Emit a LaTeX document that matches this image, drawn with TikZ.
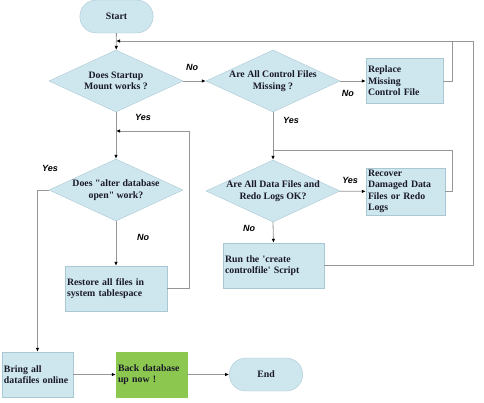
\documentclass[tikz,border=0pt]{standalone}
\usepackage{fontspec}
\setmainfont{Liberation Serif}
\newfontfamily\lblfont{Liberation Sans}
\usetikzlibrary{arrows.meta, positioning, shapes.geometric, shapes.misc}
\definecolor{color_box}{RGB}{206,230,238}
\definecolor{color_edge}{RGB}{170,200,212}
\definecolor{color_ok}{RGB}{140,200,80}
\definecolor{color_line}{RGB}{150,150,150}
\definecolor{color_text}{RGB}{25,25,40}

\begin{document}
\begin{tikzpicture}[x=1pt,y=-1pt,
	every node/.append style={font=\fontsize{9.8}{11.5}\selectfont\bfseries, text=color_text},
	terminal/.style={rounded rectangle, draw=color_edge, fill=color_box, minimum width=80pt, minimum height=33pt},
	decision/.style={diamond, draw=color_edge, fill=color_box, align=center, inner sep=-3pt, aspect=2, minimum width=134pt, minimum height=62pt},
	action/.style={rectangle, draw=color_edge, fill=color_box, align=left, inner sep=2pt, minimum height=45pt},
	answer/.style={font=\lblfont\fontsize{9}{10}\selectfont\bfseries\itshape, text=black},
	link/.style={draw=color_line, line width=0.8pt},
	arrow/.style={link, -{Latex[length=4pt,width=3.5pt,color=black]}}]
	\useasboundingbox (0,0) rectangle (484,402);
	% START AND FIRST TEST
	\node[terminal] (start) at (116.5,16.5) {Start};
	\node[decision] (mount) at (116,81) {Does Startup\\Mount works ?};
	\node[decision] (ctrl) at (273,81) {Are All Control Files\\Missing ?};
	\node[action, text width=73pt] (replace) at (404.5,81) {Replace\\Missing\\Control File};
	% DATA FILES
	\node[decision] (data) at (273,191) {Are All Data Files and\\Redo Logs OK?};
	\node[action, text width=75pt] (recover) at (405.5,191.5) {Recover\\Damaged Data\\Files or Redo\\Logs};
	\node[action, text width=97pt] (script) at (273.5,265.5) {Run the \textquotesingle create\\controlfile\textquotesingle{} Script};
	% OPEN DATABASE
	\node[decision] (open) at (116,190) {Does \textquotedbl alter database\\open\textquotedbl{} work?};
	\node[action, text width=98pt] (restore) at (116,288.5) {Restore all files in\\system tablespace};
	% FINISH
	\node[action, text width=67pt] (online) at (37.5,374.5) {Bring all\\datafiles online};
	\node[action, text width=67pt, fill=color_ok, draw=color_ok] (backup) at (151.5,374.5) {Back database\\up now !};
	\node[terminal] (end) at (266,374.5) {End};
	% junctions
	\coordinate (jtop) at (116,41);
	\coordinate (jouter) at (473,41);
	\coordinate (jrep) at (452,41);
	\coordinate (jmid) at (273,150);
	\coordinate (jrec) at (452,150);
	\coordinate (jopen) at (116,131);
	\coordinate (jrest) at (189,131);
	% connectors
	\draw[arrow] (start) -- (mount);
	\draw[arrow] (mount) -- node[answer, above=7pt, pos=0.4] (no1) {No} (ctrl);
	\draw[arrow] (ctrl) -- node[answer, below=6pt, pos=0.3] (no2) {No} (replace);
	\draw[link] (replace.east) -| (jrep);
	\draw[arrow] (script.east) -| (jouter) -- (jtop);
	\draw[arrow] (ctrl.south) -- (data.north);
	\node[answer] (yes2) at (291,120) {Yes};
	\draw[link] (recover.east) -| (jrec) -- (jmid);
	\draw[arrow] (data) -- node[answer, above=4pt, pos=0.4] (yes3) {Yes} (recover);
	\draw[arrow] (data.south) -- (script.north);
	\node[answer] (no3) at (249,228) {No};
	\draw[arrow] (mount.south) -- (open.north);
	\node[answer] (yes1) at (143,117) {Yes};
	\draw[arrow] (restore.east) -| (jrest) -- (jopen);
	\draw[arrow] (open.south) -- (restore.north);
	\node[answer] (no4) at (143,237) {No};
	\draw[arrow] (open.west) -| (online.north);
	\node[answer] (yes4) at (50,168) {Yes};
	\draw[arrow] (online) -- (backup);
	\draw[arrow] (backup) -- (end);
\end{tikzpicture}
\end{document}
